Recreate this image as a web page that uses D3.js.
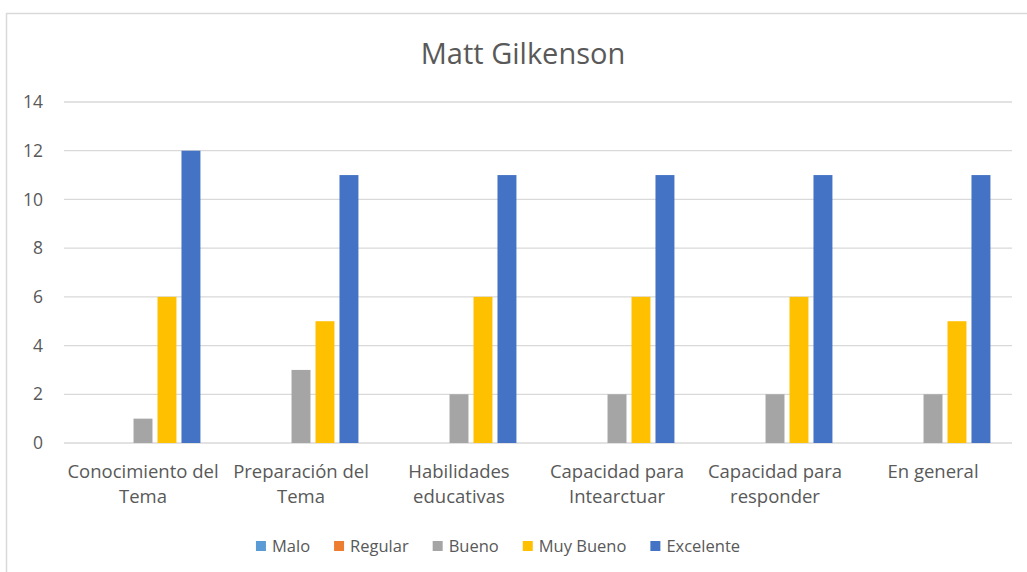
<!DOCTYPE html>
<html>
  <head>
    <meta charset="utf-8">
    <title>Matt Gilkenson</title>
    <style>
    body{margin:0;background:#fff}
    text{font-family:"Open Sans",sans-serif;fill:#595959}
    </style>
  </head>
  <body>
    <svg width="1027" height="572"></svg>
    <script src="https://d3js.org/d3.v7.min.js"></script>
    <script>

    // categories (line breaks as in the original labels)
    var categories = ["Conocimiento del\nTema", "Preparación del\nTema", "Habilidades\neducativas",
                      "Capacidad para\nIntearctuar", "Capacidad para\nresponder", "En general"];
    var seriesNames = ["Malo", "Regular", "Bueno", "Muy Bueno", "Excelente"];
    var colors = ["#5B9BD5", "#ED7D31", "#A5A5A5", "#FFC000", "#4472C4"];

    var malo      = [0, 0, 0, 0, 0, 0];
    var regular   = [0, 0, 0, 0, 0, 0];
    var bueno     = [1, 3, 2, 2, 2, 2];
    var muyBueno  = [6, 5, 6, 6, 6, 5];
    var excelente = [12, 11, 11, 11, 11, 11];
    var yTicks = [0, 2, 4, 6, 8, 10, 12, 14];

    var series = [malo, regular, bueno, muyBueno, excelente];

    var svg = d3.select("svg");

    // outer frame (right and bottom edges are off the picture)
    svg.append("rect").attr("x", 6.5).attr("y", 13.5).attr("width", 1100).attr("height", 700)
      .attr("fill", "none").attr("stroke", "#D9D9D9").attr("stroke-width", 1.5);

    svg.append("text").attr("x", 523).attr("y", 64).attr("text-anchor", "middle")
      .style("font-size", "29px").text("Matt Gilkenson");

    var x0 = d3.scaleBand().domain(d3.range(categories.length)).range([64, 1012]);
    var x1 = d3.scaleBand().domain(d3.range(seriesNames.length)).range([0, x0.bandwidth()])
      .paddingInner(0.21).paddingOuter(0.9);
    var y = d3.scaleLinear().domain([0, 14]).range([443, 102]);

    // gridlines
    svg.append("g").selectAll("line").data(yTicks).join("line")
      .attr("x1", 64).attr("x2", 1012)
      .attr("y1", function(d) { return y(d); }).attr("y2", function(d) { return y(d); })
      .attr("stroke", "#D9D9D9").attr("stroke-width", 1.3);

    // y axis labels
    var yAxis = svg.append("g").attr("transform", "translate(64,0)")
      .call(d3.axisLeft(y).tickValues(yTicks).tickSize(0).tickPadding(21));
    yAxis.select(".domain").remove();
    yAxis.selectAll("text").style("font-size", "17.5px").attr("fill", "#595959").style("font-family", "Open Sans");

    // bars
    var groups = svg.append("g").selectAll("g").data(series).join("g")
      .attr("fill", function(d, i) { return colors[i]; });
    groups.each(function(vals, si) {
      d3.select(this).selectAll("rect").data(vals).join("rect")
        .attr("x", function(d, ci) { return x0(ci) + x1(si); })
        .attr("width", x1.bandwidth())
        .attr("y", function(d) { return y(d); })
        .attr("height", function(d) { return y(0) - y(d); });
    });

    // category labels
    var xAxis = svg.append("g").attr("transform", "translate(0,443)")
      .call(d3.axisBottom(x0).tickSize(0).tickFormat(""));
    xAxis.select(".domain").remove();
    xAxis.selectAll(".tick").each(function(ci) {
      var lines = categories[ci].split("\n");
      var t = d3.select(this).append("text").attr("text-anchor", "middle")
        .attr("y", 35).style("font-size", "18.5px");
      lines.forEach(function(l, k) {
        t.append("tspan").attr("x", 0).attr("dy", k ? 25 : 0).text(l);
      });
    });

    // legend
    var legend = svg.append("g");
    var lx = 0;
    seriesNames.forEach(function(name, i) {
      var g = legend.append("g").attr("transform", "translate(" + lx + ",0)");
      g.append("rect").attr("x", 0).attr("y", -5).attr("width", 10).attr("height", 10).attr("fill", colors[i]);
      var t = g.append("text").attr("x", 16).attr("y", 6).style("font-size", "16.5px").text(name);
      lx += 16 + t.node().getComputedTextLength() + 24;
    });
    var lw = lx - 24;
    legend.attr("transform", "translate(" + (498 - lw / 2) + ",546)");

    </script>
  </body>
</html>
